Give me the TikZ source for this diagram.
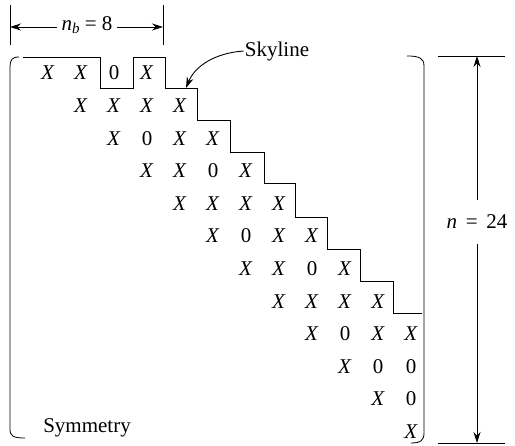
\documentclass[tikz,border=0pt]{standalone}
\usepackage{fontspec}
\setmainfont{Liberation Serif}
\usetikzlibrary{arrows.meta}
\begin{document}
\begin{tikzpicture}[x=1pt,y=-1pt,
  every node/.style={font=\fontsize{21}{24}\selectfont, inner sep=1pt},
  ent/.style={anchor=center},
  line/.style={line width=0.9pt},
  thin/.style={line width=0.8pt},
  dimarrow/.style={line width=0.8pt,-{Stealth[length=11pt,width=7pt]}},
  lbl/.style={anchor=center}]
\useasboundingbox (0,0) rectangle (515,446);
% matrix entries
\foreach \r/\c/\v in {
 0/0/X,0/1/X,0/2/0,0/3/X,
 1/1/X,1/2/X,1/3/X,1/4/X,
 2/2/X,2/3/0,2/4/X,2/5/X,
 3/3/X,3/4/X,3/5/0,3/6/X,
 4/4/X,4/5/X,4/6/X,4/7/X,
 5/5/X,5/6/0,5/7/X,5/8/X,
 6/6/X,6/7/X,6/8/0,6/9/X,
 7/7/X,7/8/X,7/9/X,7/10/X,
 8/8/X,8/9/0,8/10/X,8/11/X,
 9/9/X,9/10/0,9/11/0,
 10/10/X,10/11/0,
 11/11/X}{
  \node[ent] (e-\r-\c) at ({48+33*\c},{73+32.6*\r}) {\if\v X\textit{X}\else 0\fi};
}
% skyline
\draw[line] (23,57) -- (100,57) -- (100,88) -- (133,88) -- (133,57) -- (165,57)
  -- (165,88) -- (197,88) -- (197,120) -- (230,120) -- (230,152) -- (264,152)
  -- (264,183) -- (295,183) -- (295,217) -- (327,217) -- (327,249) -- (360,249)
  -- (360,281) -- (393,281) -- (393,313) -- (422,313);
% brackets
\draw[thin] (19,57) .. controls (12,57) and (10,60) .. (10,67) -- (10,429)
  .. controls (10,436) and (13,438) .. (25,438);
\draw[thin] (407,56) .. controls (419,56) and (424,58) .. (424,66) -- (424,433)
  .. controls (424,440) and (421,443) .. (411,443);
% labels
\node[lbl] (sky) at (277,51) {Skyline};
\node[lbl] (sym) at (87,428) {Symmetry};
\coordinate (skytip) at (186,88);
\draw[dimarrow,line width=0.9pt] (sky.west) .. controls (215,53) and (195,66) .. (skytip);
% top dimension
\coordinate (tl1) at (10,5); \coordinate (tl2) at (10,45);
\coordinate (tr1) at (163,5); \coordinate (tr2) at (163,45);
\draw[thin] (tl1) -- (tl2);
\draw[thin] (tr1) -- (tr2);
\node[lbl] (nb) at (87,25) {\textit{n}\raisebox{-0.35ex}{\fontsize{15}{16}\selectfont\textit{b}} = 8};
\coordinate (al) at (10,27); \coordinate (ar) at (163,27);
\draw[dimarrow] (nb.west |- al) ++(-3,0) -- (al);
\draw[dimarrow] (nb.east |- ar) ++(3,0) -- (ar);
% right dimension
\coordinate (rt1) at (438,56); \coordinate (rt2) at (505,56);
\coordinate (rb1) at (438,443); \coordinate (rb2) at (505,443);
\draw[thin] (rt1) -- (rt2);
\draw[thin] (rb1) -- (rb2);
\node[lbl] (n) at (477,222) {\textit{n}\, =\, 24};
\coordinate (at) at (477,56); \coordinate (ab) at (477,443);
\draw[dimarrow] (n.north -| at) ++(0,-14) -- (at);
\draw[dimarrow] (n.south -| ab) ++(0,14) -- (ab);
\end{tikzpicture}
\end{document}
